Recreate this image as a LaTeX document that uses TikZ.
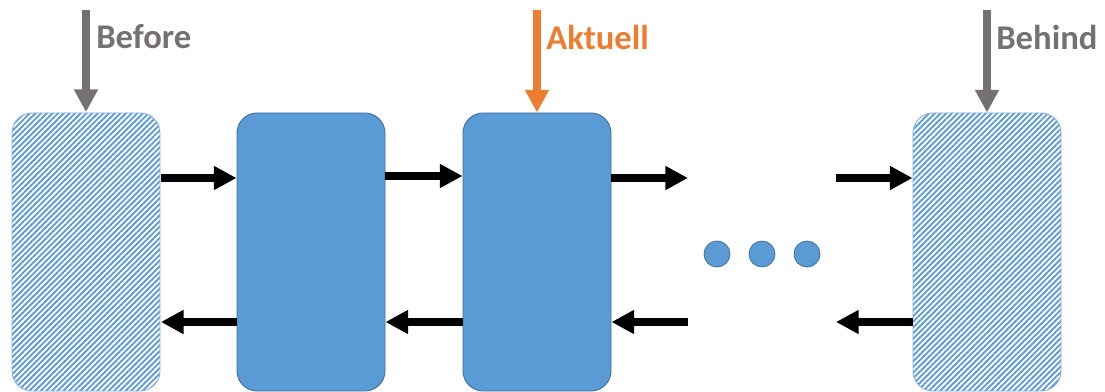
\documentclass[tikz,border=0pt]{standalone}
\usepackage{fontspec}
\setmainfont{Carlito}
\usepackage{tikz}
\usetikzlibrary{arrows.meta,patterns.meta,calc}
\definecolor{boxblue}{HTML}{5B9BD5}
\definecolor{boxedge}{HTML}{41719C}
\definecolor{hatchedge}{HTML}{8CAFD8}
\definecolor{markgray}{HTML}{767171}
\definecolor{markorange}{HTML}{ED7D31}
\tikzstyle{blk}=[rectangle, rounded corners=15pt, minimum width=111pt, minimum height=208.5pt,
inner sep=0pt]
\tikzstyle{solidblk}=[blk, fill=boxblue, draw=boxedge, line width=0.7pt]
\tikzstyle{hatchblk}=[blk, draw=hatchedge, line width=0.7pt, fill=white,
pattern={Lines[angle=45,distance=3pt,line width=1.4pt]}, pattern color=boxblue]
\tikzstyle{dotblk}=[circle, fill=boxblue, draw=boxedge, line width=0.6pt, minimum size=19.5pt, inner sep=0pt]
\tikzstyle{flow}=[-{Triangle[length=17pt,width=17pt]}, line width=5.3pt, black]
\tikzstyle{markarrow}=[-{Triangle[length=17pt,width=17pt]}, line width=6pt]
\tikzstyle{marktext}=[anchor=west, inner sep=0pt, font=\fontsize{26}{30}\selectfont\bfseries]

\begin{document}
\begin{tikzpicture}[x=0.75pt,y=-0.75pt]
\useasboundingbox (0,0) rectangle (1105,392);
\node[hatchblk] (before) at (86,252) {};
\node[solidblk] (mid) at (311,252) {};
\node[solidblk] (cur) at (537,252) {};
\node[hatchblk] (behind) at (987,252) {};
\node[dotblk] (d1) at (717,254) {};
\node[dotblk] (d2) at (762,254) {};
\node[dotblk] (d3) at (807,254) {};
\coordinate (up) at (0,178);
\coordinate (low) at (0,322);
\coordinate (top) at (0,10);
\coordinate (gapl) at (688,0);
\coordinate (gapr) at (836,0);
% forward row
\draw[flow] (before.east |- up) -- (mid.west |- up);
\draw[flow] (mid.east |- 0,176) -- (cur.west |- 0,176);
\draw[flow] (cur.east |- up) -- (gapl |- up);
\draw[flow] (gapr |- up) -- (behind.west |- up);
% backward row
\draw[flow] (mid.west |- low) -- (before.east |- low);
\draw[flow] (cur.west |- low) -- (mid.east |- low);
\draw[flow] (gapl |- low) -- (cur.east |- low);
\draw[flow] (behind.west |- low) -- (gapr |- low);
% markers
\draw[markarrow, markgray] (before.north |- top) -- (before.north);
\draw[markarrow, markorange] (cur.north |- top) -- (cur.north);
\draw[markarrow, markgray] (behind.north |- top) -- (behind.north);
\node[marktext, text=markgray] (tbefore) at (96,37) {Before};
\node[marktext, text=markorange] (tcur) at (546,37) {Aktuell};
\node[marktext, text=markgray] (tbehind) at (996,37) {Behind};
\end{tikzpicture}
\end{document}
